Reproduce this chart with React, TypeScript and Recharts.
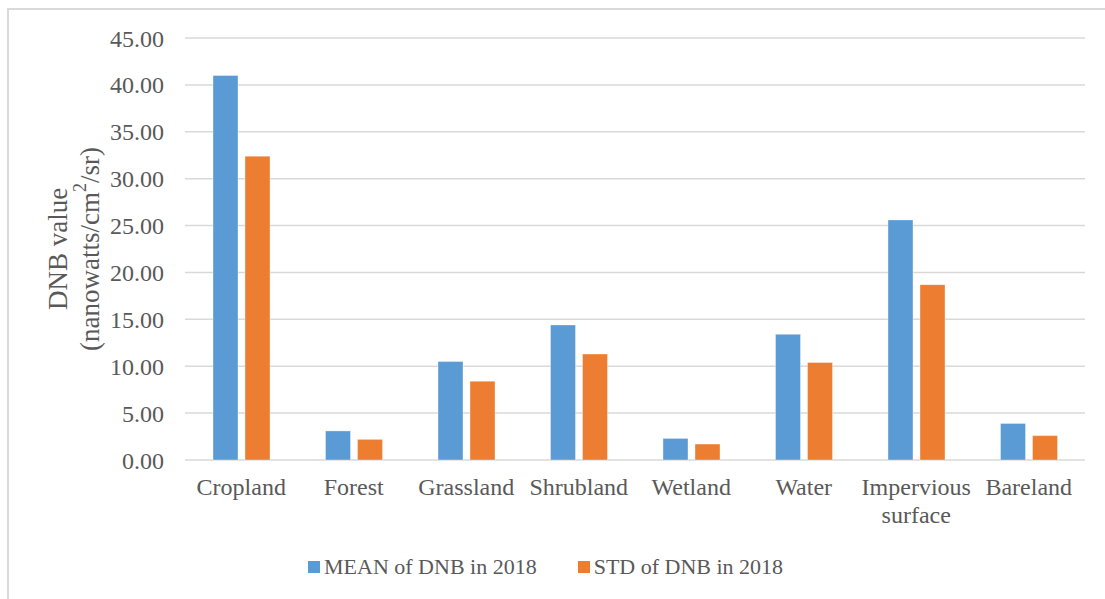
import React from 'react';
import { BarChart, Bar, XAxis, YAxis, CartesianGrid, Text, Label } from 'recharts';

const categories = ['Cropland', 'Forest', 'Grassland', 'Shrubland', 'Wetland', 'Water', 'Impervious surface', 'Bareland'];
const meanValues = [41.0, 3.1, 10.5, 14.4, 2.3, 13.4, 25.6, 3.9];
const stdValues = [32.4, 2.2, 8.4, 11.3, 1.7, 10.4, 18.7, 2.6];
const yTicks = [0, 5, 10, 15, 20, 25, 30, 35, 40, 45];

const series = [
  { key: 'mean', name: 'MEAN of DNB in 2018', color: '#5B9BD5' },
  { key: 'std', name: 'STD of DNB in 2018', color: '#ED7D31' },
];

const data = categories.map((name, i) => ({ name, mean: meanValues[i], std: stdValues[i] }));

const FONT = '"Liberation Serif", "Times New Roman", serif';
const TEXT = '#595959';
const GRID = '#D9D9D9';

// category labels wrap like Excel does ("Impervious surface" goes on two lines)
const CategoryTick = (props: any) => {
  const { x, y, payload } = props;
  return (
    <Text x={x} y={y} width={112} textAnchor="middle" verticalAnchor="start" lineHeight={28}
      fontFamily={FONT} fontSize={24} fill={TEXT}>
      {payload.value}
    </Text>
  );
};

const YTitle = (props: any) => {
  const vb = props.viewBox || { x: 0, y: 0, height: 0 };
  const cy = vb.y + vb.height / 2;
  const x1 = 58;
  const x2 = 90;
  return (
    <g fontFamily={FONT} fontSize={27} fill={TEXT}>
      <text x={x1} y={cy} transform={`rotate(-90, ${x1}, ${cy})`} textAnchor="middle" dominantBaseline="central">
        DNB value
      </text>
      <text x={x2} y={cy} transform={`rotate(-90, ${x2}, ${cy})`} textAnchor="middle" dominantBaseline="central">
        (nanowatts/cm<tspan dy={-10} fontSize={18}>2</tspan><tspan dy={10}>/sr)</tspan>
      </text>
    </g>
  );
};

export default function App() {
  return (
    <div style={{ position: 'absolute', left: 0, top: 0, width: 1105, height: 599, overflow: 'hidden', background: '#fff' }}>
      {/* chart area border (right and bottom edges fall outside the picture) */}
      <div style={{ position: 'absolute', left: 7, top: 8, width: 1200, height: 700, border: `2px solid ${GRID}` }} />
      <div style={{ position: 'absolute', left: 0, top: 0 }}>
        <BarChart width={1105} height={599} data={data} barSize={25} barGap={7}
          margin={{ top: 38, right: 20, left: 0, bottom: 0 }}>
          <CartesianGrid vertical={false} stroke={GRID} strokeWidth={1.5} />
          <XAxis dataKey="name" height={139} axisLine={false} tickLine={false} tickSize={0} tickMargin={18}
            interval={0} tick={<CategoryTick />} />
          <YAxis width={185} domain={[0, 45]} ticks={yTicks} axisLine={false} tickLine={false}
            tickSize={0} tickMargin={21} tickFormatter={(v: number) => v.toFixed(2)}
            tick={{ fontFamily: FONT, fontSize: 24, fill: TEXT }}>
            <Label content={<YTitle />} />
          </YAxis>
          {series.map((s) => (
            <Bar key={s.key} dataKey={s.key} name={s.name} fill={s.color}
              stroke="#ffffff" strokeOpacity={0.35} isAnimationActive={false} />
          ))}
        </BarChart>
      </div>
      {/* legend */}
      <div style={{ position: 'absolute', left: 308, top: 555, display: 'flex', alignItems: 'center',
        fontFamily: FONT, fontSize: 22, color: TEXT, lineHeight: '24px', whiteSpace: 'nowrap' }}>
        {series.map((s, i) => (
          <div key={s.key} style={{ display: 'flex', alignItems: 'center', marginLeft: i === 0 ? 0 : 41 }}>
            <span style={{ display: 'inline-block', width: 12, height: 12, background: s.color, marginRight: 4 }} />
            <span>{s.name}</span>
          </div>
        ))}
      </div>
    </div>
  );
}
